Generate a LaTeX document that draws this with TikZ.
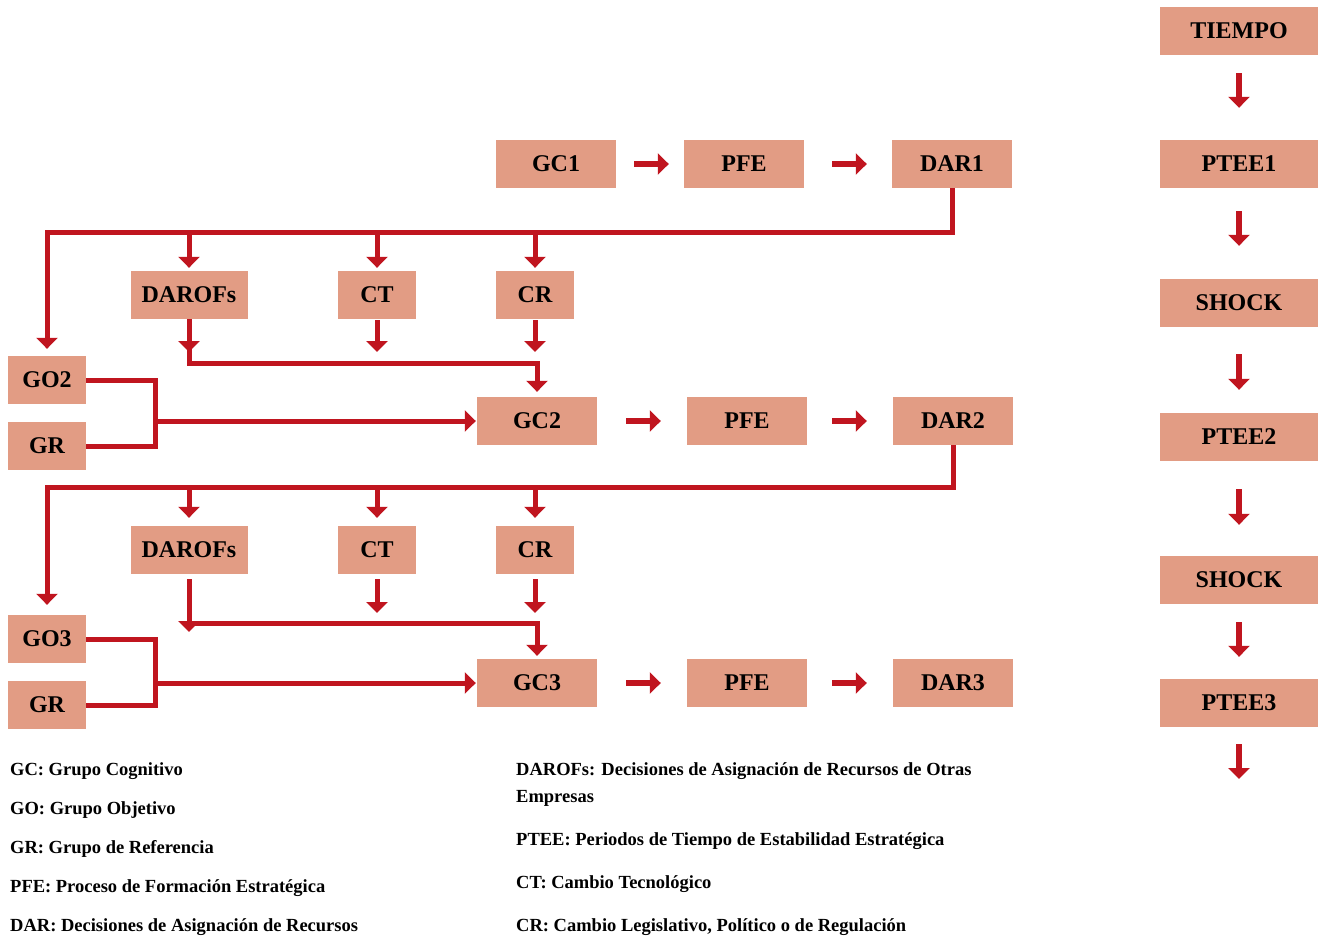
\documentclass[tikz,border=0pt]{standalone}
\usepackage{fontspec}
\setmainfont{Liberation Serif}
\usepackage{xcolor}
\usepackage{tikz}
\usetikzlibrary{arrows.meta}
\definecolor{boxfill}{RGB}{226,156,132}
\definecolor{linkred}{RGB}{192,21,31}
\tikzset{
  blk/.style={fill=boxfill, inner sep=0pt, minimum height=48pt, minimum width=120pt, font=\fontsize{24}{24}\selectfont\bfseries},
  narrow/.style={blk, minimum width=78pt},
  wide/.style={blk, minimum width=158pt},
  wire/.style={draw=linkred, line width=5pt},
  arr/.style={wire, -{Triangle[width=21pt,length=11pt]}},
  legend/.style={anchor=base west, inner sep=0pt, font=\fontsize{18.5}{20}\selectfont\bfseries}
}

\begin{document}
\begin{tikzpicture}[x=1pt,y=-1pt]
        \useasboundingbox (0,0) rectangle (1319,938);

        \node[wide] (tiempo) at (1239,31) {TIEMPO};
        \node[wide] (ptee1) at (1239,164) {PTEE1};
        \node[wide] (shock1) at (1239,303) {SHOCK};
        \node[wide] (ptee2) at (1239,437) {PTEE2};
        \node[wide] (shock2) at (1239,580) {SHOCK};
        \node[wide] (ptee3) at (1239,703) {PTEE3};
        \coordinate (tend) at (1239,779);

        \node[blk] (gc1) at (556,164) {GC1};
        \node[blk] (pfe1) at (744,164) {PFE};
        \node[blk] (dar1) at (952,164) {DAR1};
        \node[blk] (gc2) at (537,421) {GC2};
        \node[blk] (pfe2) at (747,421) {PFE};
        \node[blk] (dar2) at (953,421) {DAR2};
        \node[blk] (gc3) at (537,683) {GC3};
        \node[blk] (pfe3) at (747,683) {PFE};
        \node[blk] (dar3) at (953,683) {DAR3};

        \node[blk, minimum width=117pt] (daro1) at (189,295) {DAROFs};
        \node[narrow] (ct1) at (377,295) {CT};
        \node[narrow] (cr1) at (535,295) {CR};
        \node[blk, minimum width=117pt] (daro2) at (189,550) {DAROFs};
        \node[narrow] (ct2) at (377,550) {CT};
        \node[narrow] (cr2) at (535,550) {CR};

        \node[narrow] (go2) at (47,380) {GO2};
        \node[narrow] (gr2) at (47,446) {GR};
        \node[narrow] (go3) at (47,639) {GO3};
        \node[narrow] (gr3) at (47,705) {GR};

        \coordinate (b1) at (47,232);
        \coordinate (m1) at (537,363);
        \coordinate (j2) at (155,421);
        \coordinate (b2) at (47,487);
        \coordinate (m2) at (537,623);
        \coordinate (j3) at (155,683);

        \foreach \a/\b/\s/\e in {tiempo/ptee1/18/32, ptee1/shock1/23/33, shock1/ptee2/27/23, ptee2/shock2/28/31, shock2/ptee3/18/22}
          \draw[arr, line width=6pt, shorten <=\s pt, shorten >=\e pt] (\a) -- (\b);
        \draw[arr, line width=6pt, shorten <=17pt] (ptee3.south) -- (tend);

        \foreach \a/\b/\s/\e in {gc1/pfe1/18/15, pfe1/dar1/28/25, gc2/pfe2/29/26, pfe2/dar2/25/26, gc3/pfe3/29/26, pfe3/dar3/25/26}
          \draw[arr, line width=6pt, shorten <=\s pt, shorten >=\e pt] (\a) -- (\b);

        \draw[arr, shorten >=7pt] (dar1.south) |- (b1) -- (go2.north);
        \foreach \n in {daro1, ct1, cr1}
          \draw[arr, shorten >=3pt] (\n.north |- b1) -- (\n.north);
        \draw[arr, shorten >=5pt] (daro1.south) |- (m1) -- (gc2.north);
        \draw[arr, shorten >=11pt] (daro1.south) -- (daro1.south |- m1);
        \foreach \n in {ct1, cr1}
          \draw[arr, shorten <=1pt, shorten >=11pt] (\n.south) -- (\n.south |- m1);
        \draw[wire] (go2.east) -| (j2) |- (gr2.east);
        \draw[arr, shorten >=1pt] (j2) -- (gc2.west);

        \draw[arr, shorten >=10pt] (dar2.south) |- (b2) -- (go3.north);
        \foreach \n in {daro2, ct2, cr2}
          \draw[arr, shorten >=8pt] (\n.north |- b2) -- (\n.north);
        \draw[arr, shorten <=5pt, shorten >=3pt] (daro2.south) |- (m2) -- (gc3.north);
        \draw[arr, shorten <=5pt, shorten >=-9pt] (daro2.south) -- (daro2.south |- m2);
        \foreach \n in {ct2, cr2}
          \draw[arr, shorten <=5pt, shorten >=10pt] (\n.south) -- (\n.south |- m2);
        \draw[wire] (go3.east) -| (j3) |- (gr3.east);
        \draw[arr, shorten >=1pt] (j3) -- (gc3.west);

        \node[legend] (lgc) at (10,775) {GC: Grupo Cognitivo};
        \node[legend] (lgo) at (10,814) {GO: Grupo Objetivo};
        \node[legend] (lgr) at (10,853) {GR: Grupo de Referencia};
        \node[legend] (lpfe) at (10,892) {PFE: Proceso de Formación Estratégica};
        \node[legend] (ldar) at (10,931) {DAR: Decisiones de Asignación de Recursos};
        \node[legend] (ldaro) at (516,775) {DAROFs: Decisiones de Asignación de Recursos de Otras};
        \node[legend] (ldaro2) at (516,802) {Empresas};
        \node[legend] (lptee) at (516,845) {PTEE: Periodos de Tiempo de Estabilidad Estratégica};
        \node[legend] (lct) at (516,888) {CT: Cambio Tecnológico};
        \node[legend] (lcr) at (516,931) {CR: Cambio Legislativo, Político o de Regulación};
\end{tikzpicture}
\end{document}
